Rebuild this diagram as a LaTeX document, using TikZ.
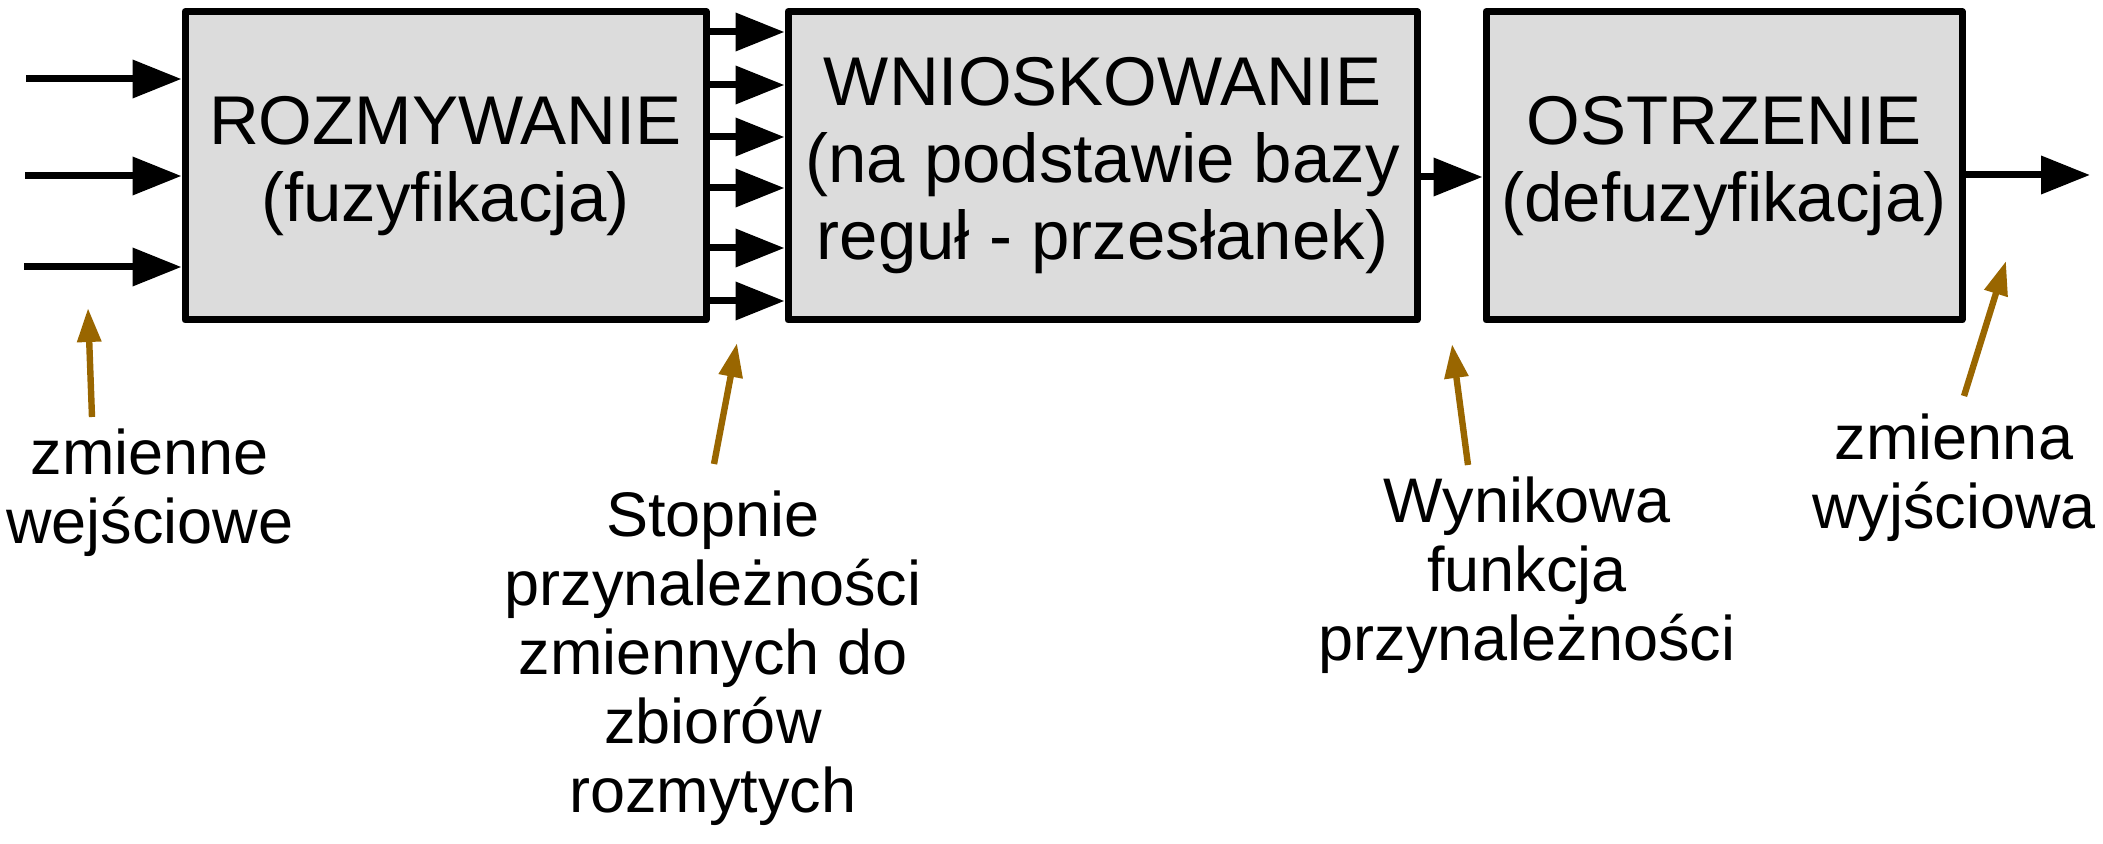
\documentclass[tikz,border=0pt]{standalone}
\usepackage{fontspec}
\setmainfont{Liberation Sans}
\usetikzlibrary{arrows.meta,positioning}
\definecolor{boxgray}{RGB}{220,220,220}
\definecolor{notebrown}{RGB}{153,102,0}

\begin{document}
\begin{tikzpicture}[x=0.5pt,y=-0.5pt,line join=round,>={Triangle[length=24.5pt,width=18.5pt]}]
	\tikzstyle{block}=[draw,fill=boxgray,line width=3.5pt,inner sep=0pt,minimum height=154.25pt,align=center,font=\fontsize{34.5pt}{38.5pt}\selectfont,execute at begin node={\rule{0pt}{32.5pt}}]
	\tikzstyle{flow}=[->,line width=3.5pt]
	\tikzstyle{pointer}=[-{Triangle[length=17pt,width=11.5pt]},line width=3.2pt,draw=notebrown]
	\tikzstyle{note}=[align=center,inner sep=0pt,anchor=base,font=\fontsize{31.5pt}{34.5pt}\selectfont]

	\useasboundingbox (0,0) rectangle (2103,844);

	\node[block,minimum width=260.5pt] (fuzz) at (445.5,165.75) {ROZMYWANIE\\(fuzyfikacja)};
	\node[block,minimum width=314.5pt] (infer) at (1102.5,165.75) {WNIOSKOWANIE\\(na podstawie bazy\\reguł - przesłanek)};
	\node[block,minimum width=238pt] (defuzz) at (1724,165.75) {OSTRZENIE\\(defuzyfikacja)};

	\coordinate (in1) at (26,79);
	\coordinate (in2) at (25,176);
	\coordinate (in3) at (24,267);
	\path[flow] (in1) edge (fuzz.west |- in1);
	\path[flow] (in2) edge (fuzz.west |- in2);
	\path[flow] (in3) edge (fuzz.west |- in3);

	\coordinate (m1) at (746,32);
	\coordinate (m2) at (746,85);
	\coordinate (m3) at (746,137);
	\coordinate (m4) at (746,188);
	\coordinate (m5) at (746,248);
	\coordinate (m6) at (746,301);
	\path[flow] (fuzz.east |- m1) edge (infer.west |- m1);
	\path[flow] (fuzz.east |- m2) edge (infer.west |- m2);
	\path[flow] (fuzz.east |- m3) edge (infer.west |- m3);
	\path[flow] (fuzz.east |- m4) edge (infer.west |- m4);
	\path[flow] (fuzz.east |- m5) edge (infer.west |- m5);
	\path[flow] (fuzz.east |- m6) edge (infer.west |- m6);

	\coordinate (link) at (1450,177);
	\path[flow] (infer.east |- link) edge (defuzz.west |- link);
	\coordinate (out) at (2090,175);
	\path[flow] (defuzz.east |- out) edge (out);

	% opisy
	\node[note] (lblin) at (150,543) {zmienne\\wejściowe};
	\node[note] (lbldeg) at (713,812) {Stopnie\\przynależności\\zmiennych do\\zbiorów\\rozmytych};
	\node[note] (lblres) at (1527,660) {Wynikowa\\funkcja\\przynależności};
	\node[note] (lblout) at (1954,528) {zmienna\\wyjściowa};

	\coordinate (p1a) at (92,417);  \coordinate (p1b) at (88,308);
	\coordinate (p2a) at (714,464); \coordinate (p2b) at (737,343);
	\coordinate (p3a) at (1468,465); \coordinate (p3b) at (1452,344);
	\coordinate (p4a) at (1964,396); \coordinate (p4b) at (2006,261);
	\draw[pointer] (p1a) -- (p1b);
	\draw[pointer] (p2a) -- (p2b);
	\draw[pointer] (p3a) -- (p3b);
	\draw[pointer] (p4a) -- (p4b);
\end{tikzpicture}
\end{document}
